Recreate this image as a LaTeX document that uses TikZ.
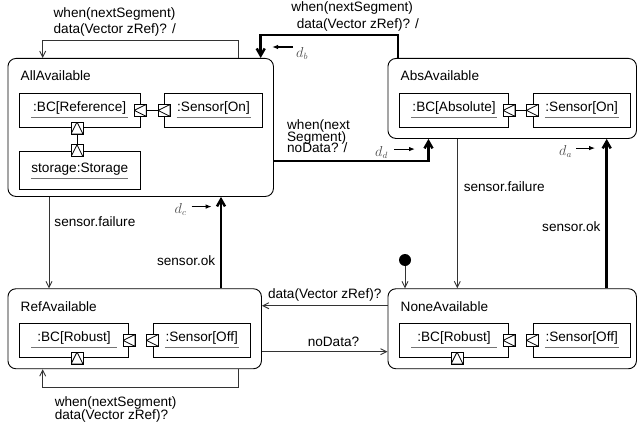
\documentclass[tikz,border=0pt]{standalone}
\usepackage{fontspec}
\setmainfont{Liberation Sans}
\usetikzlibrary{positioning,arrows.meta}

% underlined object name, line as wide as the text block
\newcommand\objname[2][c]{\makebox[\linewidth][#1]{#2}\llap{{\color{black!55}\vrule height -5.5pt depth 6.5pt width \linewidth}}}

\begin{document}
\begin{tikzpicture}[
x=1pt, y=-1pt,
font=\fontsize{13.6}{15.5}\selectfont,
state/.style={draw, rounded corners=8pt, anchor=north west, inner sep=0pt, line width=0.9pt},
statename/.style={anchor=base west, inner sep=0pt},
obj/.style={draw, anchor=north west, line width=0.8pt, inner xsep=12pt, inner ysep=0pt, minimum height=34.6pt, text width=#1, text height=10pt, text depth=8.6pt, align=left},
portw/.style={draw, fill=white, minimum size=12pt, inner sep=0pt, line width=0.8pt, path picture={\draw[line width=0.8pt] (path picture bounding box.west) -- (path picture bounding box.north east) -- (path picture bounding box.south east) -- cycle;}},
portn/.style={draw, fill=white, minimum size=12pt, inner sep=0pt, line width=0.8pt, path picture={\draw[line width=0.8pt] (path picture bounding box.north) -- (path picture bounding box.south east) -- (path picture bounding box.south west) -- cycle;}},
conn/.style={draw, line width=0.8pt},
trans/.style={draw=black!80, line width=0.9pt, -{Straight Barb[length=6pt,width=6pt]}},
main/.style={draw, line width=2.5pt, -{Straight Barb[length=7pt,width=8pt]}},
lbl/.style={inner sep=0pt, align=left},
dlbl/.style={inner sep=0pt, text=black!70, font=\fontsize{13.5}{15}\selectfont},
dmark/.style={draw, line width=1.1pt, -{Latex[length=6pt,width=4.5pt]}},
startdot/.style={circle, fill=black, minimum size=12pt, inner sep=0pt}
]
\useasboundingbox (0,0) rectangle (637,428);

% states
\node[state, minimum width=265.5pt, minimum height=138pt] (all_av) at (7.5,58) {};
\node[state, minimum width=248.5pt, minimum height=80pt] (abs_av) at (387.5,58) {};
\node[state, minimum width=253.5pt, minimum height=80pt] (ref_av) at (7.5,288.3) {};
\node[state, minimum width=248.5pt, minimum height=80pt] (none_av) at (387.5,288.3) {};

\node[statename] (all_av_name) at ([shift={(13,22.7)}]all_av.north west) {AllAvailable};
\node[statename] (abs_av_name) at ([shift={(13,22.7)}]abs_av.north west) {AbsAvailable};
\node[statename] (ref_av_name) at ([shift={(13,22.7)}]ref_av.north west) {RefAvailable};
\node[statename] (none_av_name) at ([shift={(13,22.7)}]none_av.north west) {NoneAvailable};

% AllAvailable
\node[obj=96.5pt] (all_bc) at ([shift={(11.5,34.7)}]all_av.north west) {\objname{:BC[Reference]}};
\node[obj=74pt, right=23.8pt of all_bc] (all_sensor) {\objname{:Sensor[On]}};
\node[obj=97pt, minimum height=38pt, text depth=4.6pt, below=22.7pt of all_bc.south west, anchor=north west] (all_storage) {\objname[l]{storage:Storage}};
\node[portw] (all_bc_pr) at (all_bc.east) {};
\node[portw] (all_sensor_pl) at (all_sensor.west) {};
\node[portn] (all_bc_pb) at ([xshift=58pt]all_bc.south west) {};
\node[portn] (all_storage_pt) at ([xshift=58pt]all_storage.north west) {};
\draw[conn] (all_bc_pr) -- (all_sensor_pl);
\draw[conn] (all_bc_pb) -- (all_storage_pt);

% AbsAvailable
\node[obj=85.3pt] (abs_bc) at ([shift={(11.5,34.7)}]abs_av.north west) {\objname{:BC[Absolute]}};
\node[obj=73.6pt, right=23.4pt of abs_bc] (abs_sensor) {\objname{:Sensor[On]}};
\node[portw] (abs_bc_pr) at (abs_bc.east) {};
\node[portw] (abs_sensor_pl) at (abs_sensor.west) {};
\draw[conn] (abs_bc_pr) -- (abs_sensor_pl);

% RefAvailable
\node[obj=85.3pt] (ref_bc) at ([shift={(11.5,34.4)}]ref_av.north west) {\objname{:BC[Robust]}};
\node[obj=73.6pt, right=23.4pt of ref_bc] (ref_sensor) {\objname{:Sensor[Off]}};
\node[portw] (ref_bc_pr) at (ref_bc.east) {};
\node[portw] (ref_sensor_pl) at (ref_sensor.west) {};
\node[portn] (ref_bc_pb) at ([xshift=58pt]ref_bc.south west) {};

% NoneAvailable
\node[obj=85.3pt] (none_bc) at ([shift={(11.5,34.4)}]none_av.north west) {\objname{:BC[Robust]}};
\node[obj=73.6pt, right=23.4pt of none_bc] (none_sensor) {\objname{:Sensor[Off]}};
\node[portw] (none_bc_pr) at (none_bc.east) {};
\node[portw] (none_sensor_pl) at (none_sensor.west) {};
\node[portn] (none_bc_pb) at ([xshift=58pt]none_bc.south west) {};

% transitions
\draw[trans] ([xshift=230.8pt]all_av.north west) -- ++(0,-17.3) -| node[lbl, pos=0.5, anchor=south west, xshift=10.5pt, yshift=4pt] (all_loop_lbl) {when(nextSegment)\\data(Vector zRef)? /} ([xshift=35.2pt]all_av.north west);
\draw[main] ([xshift=10.5pt]abs_av.north west) -- ++(0,-23) -| node[lbl, pos=0.5, anchor=south west, xshift=29.3pt, yshift=2.5pt] (abs_all_lbl) {when(nextSegment)\\[1pt]\hspace{5.5pt}data(Vector zRef)? /} ([xshift=253.2pt]all_av.north west);
\draw[main] ([yshift=-103pt]all_av.north east) -| node[lbl, pos=0, anchor=south west, xshift=12pt, yshift=7pt] (all_abs_lbl) {when(next\\[-4pt]Segment)\\[-4pt]noData? /} ([xshift=41pt]abs_av.south west);
\draw[trans] ([xshift=41.5pt]all_av.south west) -- node[lbl, pos=0.27, right=5pt] (all_ref_lbl) {sensor.failure} ([xshift=41.5pt]ref_av.north west);
\draw[main] ([xshift=213.5pt]ref_av.north west) -- node[lbl, pos=0.3, left=4.5pt] (ref_all_lbl) {sensor.ok} ([xshift=213.5pt]all_av.south west);
\draw[trans] ([xshift=69.8pt]abs_av.south west) -- node[lbl, pos=0.32, right=6pt] (abs_none_lbl) {sensor.failure} ([xshift=69.8pt]none_av.north west);
\draw[main] ([xshift=219.2pt]none_av.north west) -- node[lbl, pos=0.41, left=5pt] (none_abs_lbl) {sensor.ok} ([xshift=219.2pt]abs_av.south west);
\draw[trans] ([yshift=-17.4pt]none_av.north west) -- node[lbl, pos=1, anchor=south west, xshift=5.7pt, yshift=3.5pt] (none_ref_lbl) {data(Vector zRef)?} ([yshift=-17.4pt]ref_av.north east);
\draw[trans] ([yshift=-63.4pt]ref_av.north east) -- node[lbl, pos=0.57, above=5pt] (ref_none_lbl) {noData?} ([yshift=-63.4pt]none_av.north west);
\draw[trans] ([xshift=230.8pt]ref_av.south west) -- ++(0,18.4) -| node[lbl, pos=0.5, anchor=north west, xshift=11.6pt, yshift=-8.3pt] (ref_loop_lbl) {when(nextSegment)\\[-2.5pt]data(Vector zRef)?} ([xshift=35.2pt]ref_av.south west);

% initial state
\node[startdot] (init) at (405,260) {};
\draw[trans] (init) -- ([xshift=17.5pt]none_av.north west);

% d markers
\node[dlbl, anchor=north west] (d_b) at (296,47) {$d_b$};
\draw[dmark] ([xshift=-3pt]d_b.north west) -- ++(-21,0);
\node[dlbl, anchor=base west] (d_d) at (375,156) {$d_d$};
\draw[dmark] ([xshift=6pt,yshift=3pt]d_d.east) -- ++(21,0);
\node[dlbl, anchor=base west] (d_a) at (559,155) {$d_a$};
\draw[dmark] ([xshift=4pt,yshift=3pt]d_a.east) -- ++(19,0);
\node[dlbl, anchor=base west] (d_c) at (174.5,213.5) {$d_c$};
\draw[dmark] ([xshift=5pt,yshift=3pt]d_c.east) -- ++(20,0);
\end{tikzpicture}
\end{document}
